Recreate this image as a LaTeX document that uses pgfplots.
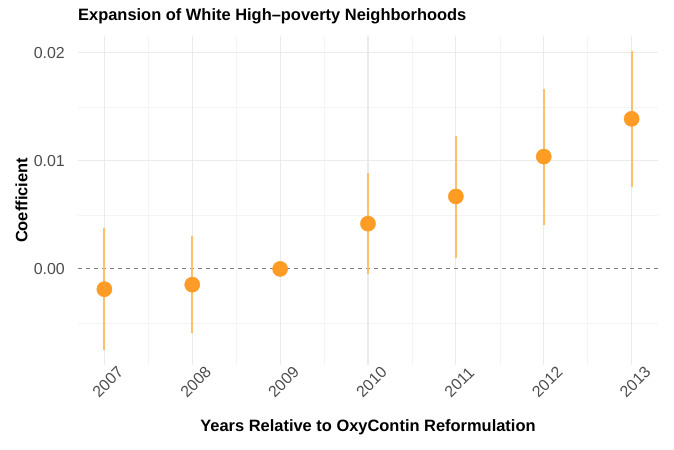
\documentclass[border=0pt]{standalone}
\usepackage{pgfplots}
\pgfplotsset{compat=1.18}
\usepackage{fontspec}
\setmainfont{Liberation Sans}
\definecolor{ptorange}{HTML}{FF9C26}
\definecolor{barorange}{HTML}{FFBE6E}
\definecolor{tickgray}{HTML}{4D4D4D}
\definecolor{majgrid}{HTML}{EBEBEB}
\definecolor{mingrid}{HTML}{F4F4F4}
\definecolor{zerogray}{HTML}{808080}

\pgfplotstableread{
year  coef      ep       em
2007 -0.00188  0.00568  0.00567
2008 -0.00146  0.00454  0.00452
2009  0.00000  0.00000  0.00000
2010  0.00419  0.00469  0.00466
2011  0.00671  0.00564  0.00573
2012  0.01040  0.00626  0.00629
2013  0.01390  0.00629  0.00627
}\coefs

\pgfplotsset{
  majline/.style={draw=majgrid, line width=1.1bp, forget plot},
  minline/.style={draw=mingrid, line width=0.6bp, forget plot},
}

\begin{document}
\begin{tikzpicture}
\begin{axis}[
  scale only axis,
  width=580bp, height=329bp,
  xmin=2006.7, xmax=2013.3,
  ymin=-0.0089, ymax=0.02157,
  axis line style={draw=none},
  major tick length=0pt, minor tick length=0pt,
  xtick={2007,2008,2009,2010,2011,2012,2013},
  xticklabels={2007,2008,2009,2010,2011,2012,2013},
  ytick={0,0.01,0.02},
  yticklabels={0.00,0.01,0.02},
  scaled y ticks=false,
  yticklabel style={font=\fontsize{16}{19}\selectfont, text=tickgray, inner sep=0pt, anchor=east, xshift=-13bp},
  xticklabel style={font=\fontsize{16}{19}\selectfont, text=tickgray, inner sep=0pt, anchor=center, yshift=-17bp, xshift=3.5bp, rotate=45},
  title={Expansion of White High\textendash poverty Neighborhoods},
  title style={at={(0,1)}, anchor=base west, yshift=9.3bp, inner sep=0pt, font=\fontsize{16.5}{19}\selectfont\bfseries},
  xlabel={Years Relative to OxyContin Reformulation},
  xlabel style={at={(axis description cs:0.5,0)}, anchor=base, yshift=-66bp, inner sep=0pt, font=\fontsize{16.5}{19}\selectfont\bfseries},
  ylabel={Coefficient},
  ylabel style={at={(axis description cs:-0.0974,0.5)}, anchor=center, inner sep=0pt, font=\fontsize{16.5}{19}\selectfont\bfseries},
  clip=false,
]
% minor grid
\pgfplotsinvokeforeach{2007.5,2008.5,2009.5,2010.5,2011.5,2012.5}{
  \addplot[minline] coordinates {(#1,-0.0089) (#1,0.02157)};
}
\pgfplotsinvokeforeach{-0.005,0.005,0.015}{
  \addplot[minline] coordinates {(2006.7,#1) (2013.3,#1)};
}
% major grid
\pgfplotsinvokeforeach{2007,2008,2009,2010,2011,2012,2013}{
  \addplot[majline] coordinates {(#1,-0.0089) (#1,0.02157)};
}
\pgfplotsinvokeforeach{0.01,0.02}{
  \addplot[majline] coordinates {(2006.7,#1) (2013.3,#1)};
}
% zero reference line
\addplot[draw=zerogray, line width=0.9bp, dash pattern=on 4bp off 4bp, forget plot]
  coordinates {(2006.7,0) (2013.3,0)};
% confidence intervals
\addplot[draw=none, mark=none,
  error bars/.cd, y dir=both, y explicit, error mark=none,
  error bar style={draw=barorange, line width=1.8bp}]
  table[x=year, y=coef, y error plus=ep, y error minus=em] {\coefs};
% point estimates
\addplot[only marks, color=ptorange, mark=*, mark size=7.6bp, mark options={fill=ptorange, draw=ptorange}]
  table[x=year, y=coef] {\coefs};
\end{axis}
\pgfresetboundingbox
\path (current axis.south west) ++(-78bp,-85bp) coordinate (bbl);
\path (current axis.north east) ++(16bp,36bp) coordinate (bbr);
\path[use as bounding box] (bbl) rectangle (bbr);
\end{tikzpicture}
\end{document}
